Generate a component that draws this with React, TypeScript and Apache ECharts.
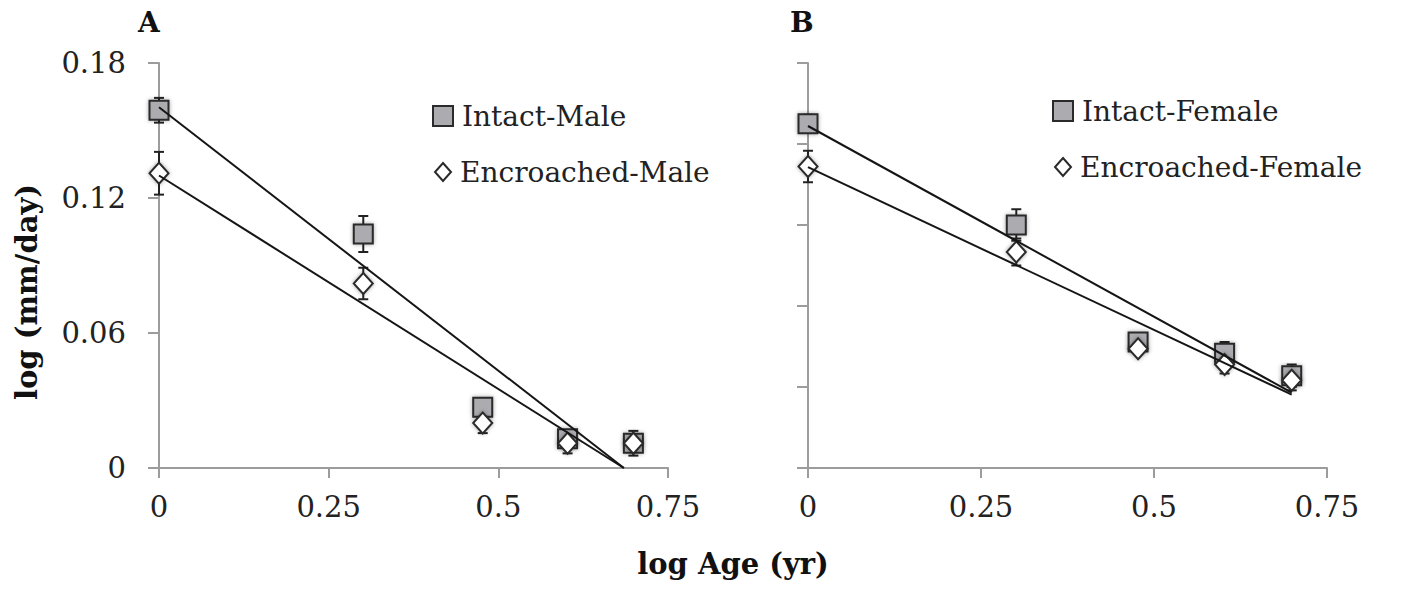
import React, { useEffect, useRef } from "react";
import * as echarts from "echarts";

const ageLog = [0, 0.301, 0.477, 0.602, 0.699];

const intactMale = [0.159, 0.104, 0.027, 0.013, 0.011];
const intactMaleErr = [0.0055, 0.008, 0.003, 0.003, 0.003];
const encroachedMale = [0.131, 0.082, 0.02, 0.011, 0.011];
const encroachedMaleErr = [0.0095, 0.007, 0.0045, 0.0045, 0.0055];

const intactFemale = [0.153, 0.108, 0.056, 0.051, 0.041];
const intactFemaleErr = [0.004, 0.007, 0.002, 0.005, 0.005];
const encroachedFemale = [0.134, 0.096, 0.053, 0.046, 0.039];
const encroachedFemaleErr = [0.007, 0.006, 0.002, 0.004, 0.0045];

// trend line end points
const trendIntactMale = [[0, 0.1603], [0.685, 0]];
const trendEncroachedMale = [[0, 0.130], [0.685, 0]];
const trendIntactFemale = [[0, 0.152], [0.699, 0.0335]];
const trendEncroachedFemale = [[0, 0.1337], [0.699, 0.0326]];

const xTicks = { min: 0, max: 0.75, interval: 0.25 };
const yTicksA = { min: 0, max: 0.18, interval: 0.06 };
const yTicksB = { min: 0, max: 0.18, interval: 0.036 };

const FONT = "DejaVu Serif";
const AXIS_COLOR = "#9c9c9c";
const INK = "#222222";

function errData(ys: number[], errs: number[]) {
  return ageLog.map((x, i) => [x, ys[i], errs[i]]);
}
function ptData(ys: number[]) {
  return ageLog.map((x, i) => [x, ys[i]]);
}

function errorSeries(name: string, idx: number, ys: number[], errs: number[]) {
  return {
    name: name + "-err",
    type: "custom",
    xAxisIndex: idx,
    yAxisIndex: idx,
    z: 1,
    encode: { x: 0, y: 1 },
    data: errData(ys, errs),
    renderItem: (params: any, api: any) => {
      const x = api.value(0);
      const y = api.value(1);
      const e = api.value(2);
      const top = api.coord([x, y + e]);
      const bot = api.coord([x, y - e]);
      const hw = 5;
      const style = { stroke: INK, lineWidth: 2 };
      return {
        type: "group",
        children: [
          { type: "line", shape: { x1: top[0], y1: top[1], x2: bot[0], y2: bot[1] }, style },
          { type: "line", shape: { x1: top[0] - hw, y1: top[1], x2: top[0] + hw, y2: top[1] }, style },
          { type: "line", shape: { x1: bot[0] - hw, y1: bot[1], x2: bot[0] + hw, y2: bot[1] }, style },
        ],
      };
    },
  };
}

function intactScatter(name: string, idx: number, ys: number[]) {
  return {
    name,
    type: "scatter",
    xAxisIndex: idx,
    yAxisIndex: idx,
    z: 2,
    symbol: "rect",
    symbolSize: 19,
    data: ptData(ys),
    itemStyle: {
      color: "#ababb0",
      borderColor: "#2a2a2a",
      borderWidth: 2,
      opacity: 1,
      shadowBlur: 4,
      shadowColor: "rgba(0,0,0,0.35)",
    },
  };
}

function encroachedScatter(name: string, idx: number, ys: number[]) {
  return {
    name,
    type: "scatter",
    xAxisIndex: idx,
    yAxisIndex: idx,
    z: 3,
    symbol: "diamond",
    symbolSize: [19, 21],
    data: ptData(ys),
    itemStyle: {
      color: "#ffffff",
      borderColor: "#2a2a2a",
      borderWidth: 2,
      opacity: 1,
      shadowBlur: 4,
      shadowColor: "rgba(0,0,0,0.35)",
    },
  };
}

function trendSeries(name: string, idx: number, pts: number[][]) {
  return {
    name: name + "-trend",
    type: "line",
    xAxisIndex: idx,
    yAxisIndex: idx,
    z: 4,
    symbol: "none",
    silent: true,
    data: pts,
    lineStyle: { color: "#151515", width: 2 },
  };
}

function xAxis(idx: number) {
  return {
    type: "value",
    gridIndex: idx,
    ...xTicks,
    splitLine: { show: false },
    axisLine: { show: true, onZero: false, lineStyle: { color: AXIS_COLOR, width: 2 } },
    axisTick: { show: true, length: 10, lineStyle: { color: AXIS_COLOR, width: 2 } },
    axisLabel: { show: true, margin: 24, color: INK, fontFamily: FONT, fontSize: 29 },
  };
}

function yAxis(idx: number, ticks: any, showLabels: boolean) {
  return {
    type: "value",
    gridIndex: idx,
    ...ticks,
    splitLine: { show: false },
    axisLine: { show: true, onZero: false, lineStyle: { color: AXIS_COLOR, width: 2 } },
    axisTick: { show: true, length: 11, lineStyle: { color: AXIS_COLOR, width: 2 } },
    axisLabel: { show: showLabels, margin: 33, color: INK, fontFamily: FONT, fontSize: 29 },
  };
}

function legendItem(name: string, left: number, top: number, icon: string, w: number, h: number) {
  return {
    data: [name],
    left,
    top,
    padding: 0,
    icon,
    itemWidth: w,
    itemHeight: h,
    selectedMode: false,
    itemStyle: { shadowBlur: 0, borderWidth: 2 },
    textStyle: {
      color: INK,
      fontFamily: FONT,
      fontSize: 28,
      lineHeight: 30,
      padding: [0, 0, 0, 4],
    },
  };
}

export default function App() {
  const ref = useRef<HTMLDivElement>(null);
  useEffect(() => {
    if (!ref.current) return;
    const chart = echarts.init(ref.current, undefined, { renderer: "svg" });
    chart.setOption({
      animation: false,
      backgroundColor: "#ffffff",
      grid: [
        { left: 159, width: 509, top: 63, height: 405, containLabel: false },
        { left: 808, width: 519, top: 63, height: 405, containLabel: false },
      ],
      xAxis: [xAxis(0), xAxis(1)],
      yAxis: [yAxis(0, yTicksA, true), yAxis(1, yTicksB, false)],
      legend: [
        legendItem("Intact-Male", 432, 101, "rect", 20, 20),
        legendItem("Encroached-Male", 434, 157, "diamond", 16, 18),
        legendItem("Intact-Female", 1052, 96, "rect", 20, 20),
        legendItem("Encroached-Female", 1054, 152, "diamond", 16, 18),
      ],
      series: [
        errorSeries("Intact-Male", 0, intactMale, intactMaleErr),
        errorSeries("Encroached-Male", 0, encroachedMale, encroachedMaleErr),
        intactScatter("Intact-Male", 0, intactMale),
        encroachedScatter("Encroached-Male", 0, encroachedMale),
        trendSeries("Intact-Male", 0, trendIntactMale),
        trendSeries("Encroached-Male", 0, trendEncroachedMale),
        errorSeries("Intact-Female", 1, intactFemale, intactFemaleErr),
        errorSeries("Encroached-Female", 1, encroachedFemale, encroachedFemaleErr),
        intactScatter("Intact-Female", 1, intactFemale),
        encroachedScatter("Encroached-Female", 1, encroachedFemale),
        trendSeries("Intact-Female", 1, trendIntactFemale),
        trendSeries("Encroached-Female", 1, trendEncroachedFemale),
      ],
      graphic: [
        {
          type: "text",
          left: 138,
          top: 8,
          style: { text: "A", font: `bold 28px "${FONT}"`, fill: "#111" },
        },
        {
          type: "text",
          left: 790,
          top: 8,
          style: { text: "B", font: `bold 28px "${FONT}"`, fill: "#111" },
        },
        {
          type: "text",
          x: 27,
          y: 292,
          rotation: Math.PI / 2,
          style: {
            text: "log (mm/day)",
            font: `bold 29px "${FONT}"`,
            fill: "#111",
            align: "center",
            verticalAlign: "middle",
          },
        },
        {
          type: "text",
          x: 733,
          y: 564,
          style: {
            text: "log Age (yr)",
            font: `bold 29px "${FONT}"`,
            fill: "#111",
            align: "center",
            verticalAlign: "middle",
          },
        },
      ],
    });
    return () => chart.dispose();
  }, []);
  return (
    <div
      ref={ref}
      style={{ position: "absolute", left: 0, top: 0, width: 1401, height: 589 }}
    />
  );
}
